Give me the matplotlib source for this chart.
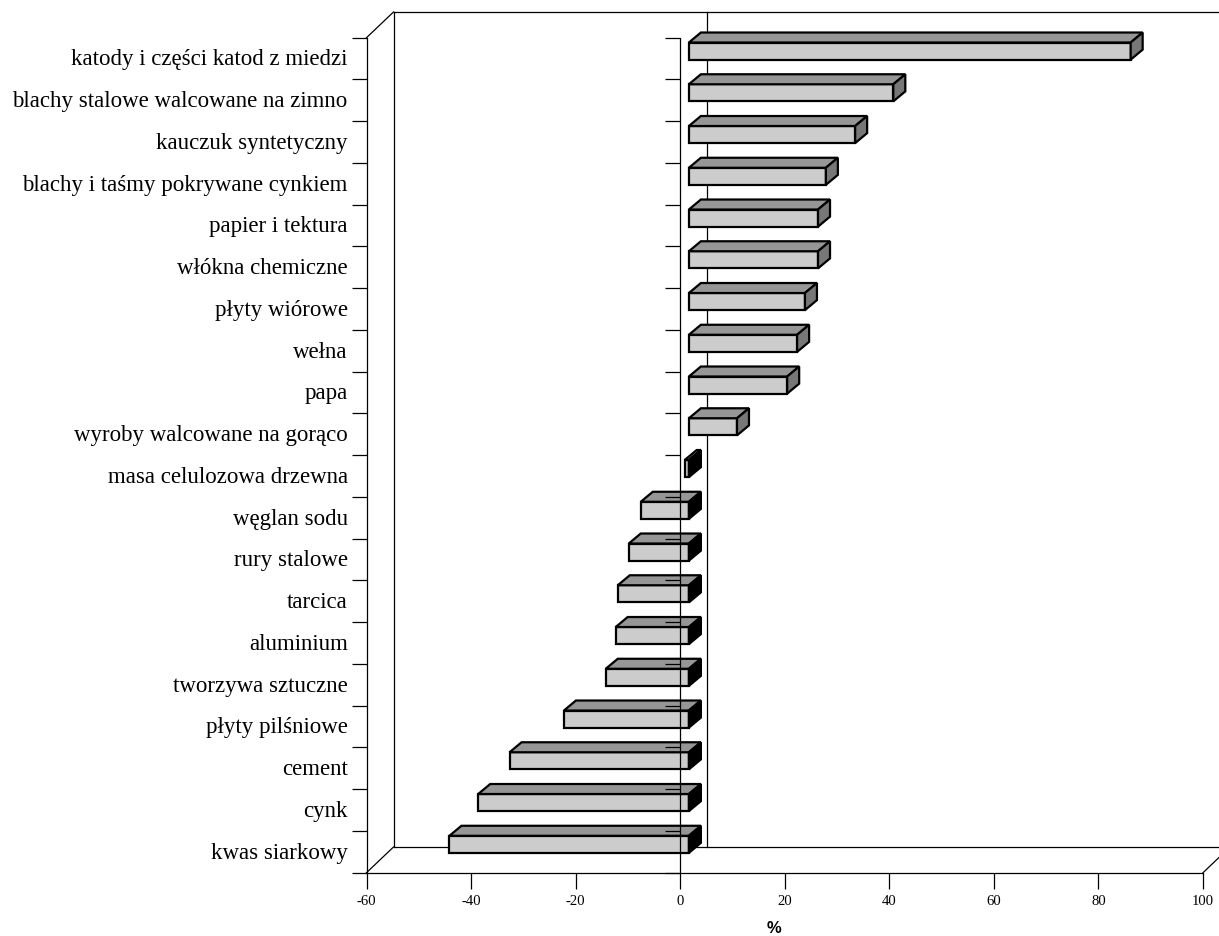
import numpy as np
import matplotlib
matplotlib.use("Agg")
import matplotlib.pyplot as plt
from matplotlib.patches import Polygon
from matplotlib.transforms import Affine2D, IdentityTransform

categories = ['katody i części katod z miedzi', 'blachy stalowe walcowane na zimno',
              'kauczuk syntetyczny', 'blachy i taśmy pokrywane cynkiem',
              'papier i tektura', 'włókna chemiczne', 'płyty wiórowe', 'wełna', 'papa',
              'wyroby walcowane na gorąco', 'masa celulozowa drzewna', 'węglan sodu',
              'rury stalowe', 'tarcica', 'aluminium', 'tworzywa sztuczne',
              'płyty pilśniowe', 'cement', 'cynk', 'kwas siarkowy']
values = [84.5, 39.1, 31.8, 26.2, 24.7, 24.7, 22.2, 20.7, 18.8, 9.2,
          -0.8, -9.2, -11.5, -13.6, -14.0, -15.9, -23.9, -34.3, -40.3, -45.8]
x_ticks = [-60, -40, -20, 0, 20, 40, 60, 80, 100]

W, H = 1219, 937
fig = plt.figure(figsize=(W / 100, H / 100), dpi=100)
ax = fig.add_axes([366.5 / W, (H - 873.7) / H, 836.5 / W, 835 / H])
ax.set_xlim(-60, 100)
ax.set_ylim(20, 0)

n = len(categories)
y_pos = np.arange(n) + 0.5
bar_h = 0.41

# pixel offsets of the fake 3d look
bar_dx, bar_dy = 8.7, 7.5
front = Affine2D().translate(bar_dx, bar_dy)
wall = Affine2D().translate(27, 25.7)
depth = (12, 10)

ax.barh(y_pos, values, height=bar_h, color='#cccccc', edgecolor='black', linewidth=1.6,
        transform=ax.transData + front, zorder=3)


def px(x, y):
    p = ax.transData.transform((x, y))
    return p + np.array([bar_dx, bar_dy])


for y, v in zip(y_pos, values):
    t = y - bar_h / 2
    b = y + bar_h / 2
    lo, hi = min(v, 0), max(v, 0)
    a1, a2 = px(lo, t), px(hi, t)
    top = [a1, a2, a2 + depth, a1 + depth]
    s1, s2 = px(hi, t), px(hi, b)
    side = [s1, s2, s2 + depth, s1 + depth]
    side_color = '#777777' if v > 0 else 'black'
    for pts, c in ((top, '#969696'), (side, side_color)):
        ax.add_patch(Polygon(pts, closed=True, facecolor=c, edgecolor='black', linewidth=1.6,
                             transform=IdentityTransform(), zorder=3, clip_on=False))

# back wall and floor
line = dict(color='black', linewidth=0.9, clip_on=False)
ax.plot([-60, -60], [0, 20], transform=ax.transData + wall, zorder=1, **line)
ax.plot([-60, 110], [0, 0], transform=ax.transData + wall, zorder=1, **line)
ax.plot([-60, 110], [20, 20], transform=ax.transData + wall, zorder=1, **line)
ax.plot([0, 0], [0, 20], transform=ax.transData + wall, zorder=1, **line)
for cx, cy in ((-60, 0), (-60, 20), (100, 20)):
    p = ax.transData.transform((cx, cy))
    ax.plot([p[0], p[0] + 27], [p[1], p[1] + 25.7], transform=IdentityTransform(), zorder=1, **line)

# zero line and its ticks sit over the bars
ax.axvline(0, color='black', linewidth=0.9, zorder=4)
ax.hlines(np.arange(n + 1), -3, 0, color='black', linewidth=0.9, zorder=4, clip_on=False)

for s in ('top', 'right'):
    ax.spines[s].set_visible(False)
for s in ('left', 'bottom'):
    ax.spines[s].set_linewidth(0.9)

ax.set_xticks(x_ticks)
ax.set_xticklabels([str(t) for t in x_ticks], family='Liberation Serif', fontsize=10.6)
ax.tick_params(axis='x', length=11.5, width=0.9, pad=3.5)
ax.set_yticks(np.arange(n + 1))
ax.set_yticklabels([])
ax.tick_params(axis='y', which='major', length=10.5, width=0.9)
ax.set_yticks(y_pos - 0.05, minor=True)
ax.set_yticklabels(categories, minor=True, family='Liberation Serif', fontsize=16.5)
ax.tick_params(axis='y', which='minor', length=0, pad=13.5)

fig.text(774 / W, 1 - 929 / H, '%', family='Liberation Sans', fontweight='bold',
         fontsize=12, ha='center', va='center')

fig.savefig('out.png', dpi=100)
